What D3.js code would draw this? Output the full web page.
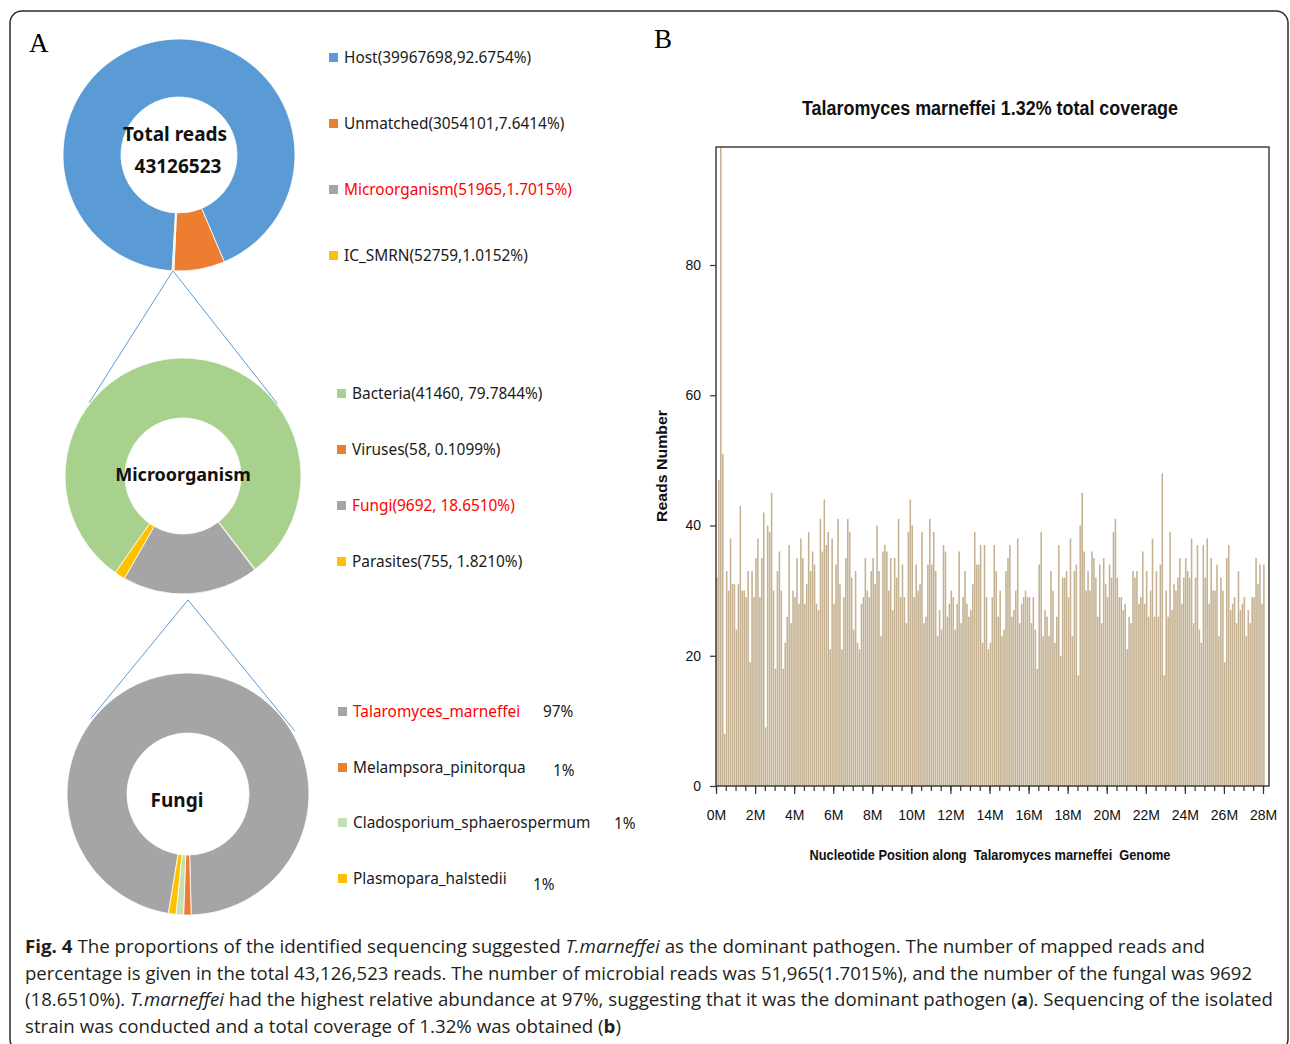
<!DOCTYPE html>
<html>
<head>
<meta charset="utf-8">
<script src="https://cdn.jsdelivr.net/npm/d3@7"></script>
<style>
  body { margin: 0; background: #fff; }
  svg { display: block; }
</style>
</head>
<body>
<div id="app"></div>
<script>
//panel A data (donuts)
const totalNames = ["Host", "Unmatched", "Microorganism", "IC_SMRN"];
const totalReads = [39967698, 3054101, 51965, 52759];
const totalLabels = ["Host(39967698,92.6754%)", "Unmatched(3054101,7.6414%)", "Microorganism(51965,1.7015%)", "IC_SMRN(52759,1.0152%)"];

const microNames = ["Bacteria", "Viruses", "Fungi", "Parasites"];
const microReads = [41460, 58, 9692, 755];
const microLabels = ["Bacteria(41460, 79.7844%)", "Viruses(58, 0.1099%)", "Fungi(9692, 18.6510%)", "Parasites(755, 1.8210%)"];

const fungiNames = ["Talaromyces_marneffei", "Melampsora_pinitorqua", "Cladosporium_sphaerospermum", "Plasmopara_halstedii"];
const fungiShares = [97, 1, 1, 1];
const fungiPercent = ["97%", "1%", "1%", "1%"];

//panel B data: reads per 0.1 Mb bin along the genome
const binSize = 0.1;
const coverage = [
  32, 47, 98, 51, 8, 33, 30, 38, 31, 31, 24, 31, 43, 30, 30, 29, 33, 19, 33, 29,
  35, 38, 29, 35, 42, 9, 40, 39, 45, 30, 18, 33, 36, 30, 18, 22, 26, 37, 25, 30,
  29, 35, 28, 38, 35, 28, 31, 39, 33, 36, 34, 28, 27, 41, 36, 44, 37, 39, 21, 38,
  28, 34, 41, 31, 21, 29, 35, 41, 39, 32, 24, 33, 22, 21, 28, 29, 35, 30, 29, 33,
  35, 31, 40, 33, 23, 36, 37, 36, 30, 35, 27, 35, 32, 41, 29, 34, 29, 25, 39, 44,
  40, 29, 34, 30, 31, 39, 25, 26, 34, 41, 34, 39, 33, 23, 27, 24, 37, 36, 26, 28,
  30, 29, 24, 28, 36, 25, 29, 33, 28, 26, 27, 31, 39, 34, 34, 37, 22, 37, 29, 21,
  22, 29, 37, 33, 26, 30, 23, 24, 33, 35, 37, 26, 27, 30, 38, 25, 28, 29, 30, 29,
  29, 25, 29, 24, 18, 34, 39, 23, 27, 26, 23, 33, 30, 22, 26, 37, 20, 32, 32, 33,
  29, 38, 23, 33, 34, 17, 40, 45, 36, 30, 33, 30, 36, 35, 32, 26, 34, 25, 35, 31,
  29, 34, 32, 39, 41, 32, 29, 29, 27, 28, 21, 26, 25, 33, 32, 33, 28, 29, 36, 28,
  33, 26, 30, 38, 26, 33, 26, 34, 48, 17, 30, 26, 39, 27, 31, 30, 32, 35, 28, 32,
  35, 33, 32, 38, 25, 32, 37, 24, 22, 37, 32, 38, 28, 35, 30, 30, 34, 23, 32, 30,
  19, 35, 37, 27, 28, 29, 25, 33, 27, 28, 29, 23, 27, 25, 29, 29, 35, 31, 34, 28,
  34
];
const yTicks = [0, 20, 40, 60, 80];
const xLabelTicks = [0, 2, 4, 6, 8, 10, 12, 14, 16, 18, 20, 22, 24, 26, 28];

//caption
const captionLines = [
  [["Fig. 4", "b"], [" The proportions of the identified sequencing suggested "], ["T.marneffei", "i"], [" as the dominant pathogen. The number of mapped reads and"]],
  [["percentage is given in the total 43,126,523 reads. The number of microbial reads was 51,965(1.7015%), and the number of the fungal was 9692"]],
  [["(18.6510%). "], ["T.marneffei", "i"], [" had the highest relative abundance at 97%, suggesting that it was the dominant pathogen ("], ["a", "b"], ["). Sequencing of the isolated"]],
  [["strain was conducted and a total coverage of 1.32% was obtained ("], ["b", "b"], [")"]]
];
const captionWidths = [1180, 1227, 1248, 596];

//layout
const W = 1290, H = 1044;
const deg = Math.PI / 180;
const legendFont = "'Noto Sans', 'Open Sans', sans-serif";
const plotFont = "'Liberation Sans Narrow', 'Liberation Sans', Arial, sans-serif";

const svg = d3.select("#app").append("svg")
  .attr("width", W).attr("height", H)
  .attr("viewBox", `0 0 ${W} ${H}`);

//frame
svg.append("rect")
  .attr("x", 10).attr("y", 11).attr("width", 1278).attr("height", 1040)
  .attr("rx", 12)
  .style("fill", "none").style("stroke", "#2b2b2b").style("stroke-width", 1.5);

//panel letters
svg.append("text").attr("x", 29).attr("y", 52).text("A")
  .style("font-family", "'Liberation Serif', 'DejaVu Serif', serif").style("font-size", "27px");
svg.append("text").attr("x", 654).attr("y", 48).text("B")
  .style("font-family", "'Liberation Serif', 'DejaVu Serif', serif").style("font-size", "27px");

//donut helper
const donuts = [
  { cx: 179, cy: 155, R: 116, r: 58, start: 183.4, values: totalReads, colors: ["#5b9bd5", "#ed7d31", "#a5a5a5", "#ffc000"] },
  { cx: 183, cy: 476, R: 118, r: 58, start: 215, values: microReads, colors: ["#a9d18e", "#ed7d31", "#a5a5a5", "#ffc000"] },
  { cx: 188, cy: 794, R: 121, r: 61, start: 189.3, values: fungiShares, colors: ["#a5a5a5", "#ed7d31", "#c5e0b4", "#ffc000"] }
];

const rimPoint = (d, angle, radius) => [
  d.cx + radius * Math.sin(angle * deg),
  d.cy - radius * Math.cos(angle * deg)
];

//connector lines between donuts
const connectors = [
  [rimPoint(donuts[0], 183, donuts[0].R), rimPoint(donuts[1], -52, donuts[1].R + 1)],
  [rimPoint(donuts[0], 183, donuts[0].R), rimPoint(donuts[1], 52.5, donuts[1].R + 1)],
  [rimPoint(donuts[1], 177.7, donuts[1].R + 6), rimPoint(donuts[2], -52, donuts[2].R + 2)],
  [rimPoint(donuts[1], 177.7, donuts[1].R + 6), rimPoint(donuts[2], 59.5, donuts[2].R + 3)]
];
svg.append("g").selectAll("line").data(connectors).join("line")
  .attr("x1", (d) => d[0][0]).attr("y1", (d) => d[0][1])
  .attr("x2", (d) => d[1][0]).attr("y2", (d) => d[1][1])
  .style("stroke", "#5b9bd5").style("stroke-width", 1);

//draw donuts
donuts.forEach((d) => {
  const pie = d3.pie().sort(null).value((v) => v)
    .startAngle(d.start * deg).endAngle(d.start * deg + 2 * Math.PI);
  const arc = d3.arc().innerRadius(d.r).outerRadius(d.R);
  svg.append("g")
    .attr("transform", `translate(${d.cx}, ${d.cy})`)
    .selectAll("path")
    .data(pie(d.values))
    .enter()
    .append("path")
    .attr("d", arc)
    .style("fill", (p, i) => d.colors[i])
    .style("stroke", "#fff")
    .style("stroke-width", 0.8);
});

//donut centre labels
const centreText = (x, y, t, size) => {
  svg.append("text").attr("x", x).attr("y", y).attr("text-anchor", "middle")
    .attr("dominant-baseline", "central").text(t)
    .style("font-family", legendFont).style("font-weight", "bold")
    .style("font-size", size).style("fill", "#111");
};
centreText(175, 134, "Total reads", "19px");
centreText(178, 166, "43126523", "19px");
centreText(183, 474, "Microorganism", "18px");
centreText(177, 800, "Fungi", "19px");

//legends
const drawLegend = (x, ys, labels, colors, redIndex) => {
  const g = svg.append("g");
  labels.forEach((t, i) => {
    g.append("rect").attr("x", x).attr("y", ys[i] - 4).attr("width", 9).attr("height", 9)
      .style("fill", colors[i]);
    g.append("text").attr("x", x + 15).attr("y", ys[i]).attr("dominant-baseline", "central")
      .text(t)
      .style("font-family", legendFont).style("font-size", "15.4px")
      .style("fill", i === redIndex ? "#ff0000" : "#1a1a1a");
  });
};
drawLegend(329, [57, 123, 189, 255], totalLabels, donuts[0].colors, 2);
drawLegend(337, [393, 449, 505, 561], microLabels, donuts[1].colors, 2);
drawLegend(338, [711, 767, 822, 878], fungiNames, donuts[2].colors, 0);

const pctX = [543, 553, 614, 533];
const pctY = [711, 770, 823, 884];
fungiPercent.forEach((t, i) => {
  svg.append("text").attr("x", pctX[i]).attr("y", pctY[i]).attr("dominant-baseline", "central")
    .text(t).style("font-family", legendFont).style("font-size", "15.4px").style("fill", "#1a1a1a");
});

//panel B: coverage bar chart
const plot = { left: 716, right: 1269, top: 147, bottom: 786 };
const x = d3.scaleLinear().domain([0, 28]).range([plot.left, 1263]);
const y = d3.scaleLinear().domain([0, 80]).range([plot.bottom, 265]);

svg.append("clipPath").attr("id", "plotClip")
  .append("rect").attr("x", plot.left).attr("y", plot.top)
  .attr("width", plot.right - plot.left).attr("height", plot.bottom - plot.top);

const barW = (x(binSize) - x(0)) * 0.8;
svg.append("g").attr("clip-path", "url(#plotClip)")
  .selectAll("rect")
  .data(coverage)
  .enter()
  .append("rect")
  .attr("x", (d, i) => x(i * binSize) + 0.1)
  .attr("width", barW)
  .attr("y", (d) => y(d))
  .attr("height", (d) => y(0) - y(d))
  .style("fill", "#c4b292");

//plot box
svg.append("rect")
  .attr("x", plot.left).attr("y", plot.top)
  .attr("width", plot.right - plot.left).attr("height", plot.bottom - plot.top)
  .style("fill", "none").style("stroke", "#333").style("stroke-width", 1.4);

//axes
const yAxis = d3.axisLeft(y).tickValues(yTicks).tickSize(6).tickPadding(9).tickSizeOuter(0);
const gy = svg.append("g").attr("transform", `translate(${plot.left}, 0)`).call(yAxis);

const minorTicks = d3.range(0, 28.01, 0.5);
const gxMinor = svg.append("g").attr("transform", `translate(0, ${plot.bottom})`)
  .call(d3.axisBottom(x).tickValues(minorTicks).tickSize(5).tickFormat("").tickSizeOuter(0));
const gx = svg.append("g").attr("transform", `translate(0, ${plot.bottom})`)
  .call(d3.axisBottom(x).tickValues(xLabelTicks).tickSize(8).tickPadding(16)
    .tickFormat((d) => d + "M").tickSizeOuter(0));

[gy, gx, gxMinor].forEach((g) => {
  g.select(".domain").remove();
  g.selectAll("line").style("stroke", "#333").style("stroke-width", 1.2);
  g.selectAll("text").style("font-family", plotFont).style("font-size", "14px").style("fill", "#111");
});

//titles
svg.append("text").attr("x", 990).attr("y", 115).attr("text-anchor", "middle")
  .attr("textLength", 376).attr("lengthAdjust", "spacingAndGlyphs")
  .text("Talaromyces marneffei 1.32% total coverage")
  .style("font-family", plotFont).style("font-weight", "bold").style("font-size", "20px").style("fill", "#111");

svg.append("text").attr("x", 990).attr("y", 860).attr("text-anchor", "middle")
  .attr("textLength", 361).attr("lengthAdjust", "spacingAndGlyphs")
  .text("Nucleotide Position along  Talaromyces marneffei  Genome")
  .style("white-space", "pre")
  .style("font-family", plotFont).style("font-weight", "bold").style("font-size", "14.5px").style("fill", "#111");

svg.append("text").attr("transform", "translate(667, 466) rotate(-90)").attr("text-anchor", "middle")
  .attr("textLength", 112).attr("lengthAdjust", "spacingAndGlyphs")
  .text("Reads Number")
  .style("font-family", plotFont).style("font-weight", "bold").style("font-size", "14px").style("fill", "#111");

//caption
const cap = svg.append("g");
captionLines.forEach((line, i) => {
  const t = cap.append("text").attr("x", 25).attr("y", 953 + i * 26.7)
    .attr("textLength", captionWidths[i]).attr("lengthAdjust", "spacingAndGlyphs")
    .style("font-family", "'Open Sans', 'Noto Sans', sans-serif").style("font-size", "17.5px")
    .style("fill", "#231f20").style("white-space", "pre");
  line.forEach((part) => {
    t.append("tspan").text(part[0])
      .style("font-weight", part[1] === "b" ? "bold" : "normal")
      .style("font-style", part[1] === "i" ? "italic" : "normal");
  });
});
</script>
</body>
</html>
